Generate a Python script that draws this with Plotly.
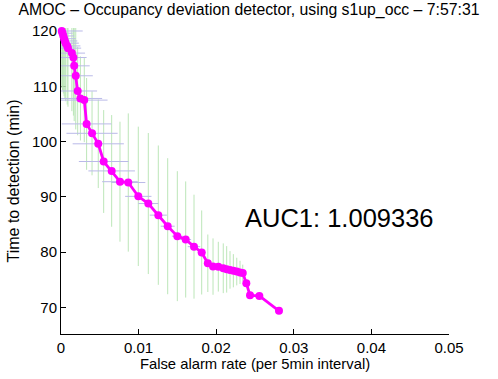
import plotly.graph_objects as go

# False alarm rate (per 5min interval)
far = [0.0001, 0.0002, 0.0003, 0.0004, 0.0005, 0.0006, 0.0008, 0.0009, 0.0014, 0.0016,
       0.0017, 0.0019, 0.00215, 0.0025, 0.0030, 0.0033, 0.0040, 0.0048, 0.0055, 0.00653,
       0.0076, 0.00867, 0.00996, 0.01125, 0.01254, 0.01375, 0.01499, 0.01607, 0.01714, 0.01813,
       0.01892, 0.01959, 0.02027, 0.02091, 0.02135, 0.02178, 0.02221, 0.02265, 0.02307, 0.02342,
       0.02388, 0.02436, 0.02556, 0.02809]
# Time to detection (min)
ttd = [120.0, 119.6, 119.1, 118.6, 118.2, 117.8, 117.3, 116.9, 116.0, 115.2,
       113.7, 111.9, 109.15, 107.8, 107.5, 103.2, 101.5, 99.6, 96.4, 94.7,
       92.75, 92.6, 90.1, 88.8, 86.7, 84.7, 82.9, 82.3, 81.0, 79.95,
       78.0, 77.4, 77.38, 77.1, 76.9, 76.8, 76.65, 76.5, 76.35, 76.25,
       74.4, 72.2, 72.1, 69.4]
# vertical spread (min)
err_ttd = [10.3, 10.3, 10.4, 10.4, 10.5, 10.5, 10.6, 10.6, 10.5, 10.5,
           10.0, 9.7, 8.0, 7.6, 7.6, 8.3, 7.6, 8.0, 9.3, 10.1,
           10.85, 12.5, 12.6, 12.75, 12.6, 12.3, 11.75, 10.5, 9.4, 7.6,
           5.2, 5.1, 4.5, 4.5, 4.2, 3.4, 3.0, 2.5, 2.1, 1.5,
           0, 0, 0, 0]
# horizontal spread (false alarm rate)
err_far = [0.0027, 0.0013, 0.0014, 0.0015, 0.0016, 0.0017, 0.0017, 0.0017, 0.0017, 0.0017,
           0.0020, 0.0022, 0.0025, 0.0028, 0.0030, 0.0032, 0.0033, 0.0033, 0.0032, 0.0030,
           0.0023, 0.0022, 0.0017, 0.0013, 0.0011, 0.0009, 0.0007, 0.0007, 0.0008, 0.0005,
           0.0004, 0.0003, 0.0003, 0.0003, 0.0002, 0.0002, 0.0002, 0.0002, 0.0001, 0.0001,
           0, 0, 0, 0]

x_ticks = [0, 0.01, 0.02, 0.03, 0.04, 0.05]
x_ticklabels = ["0", "0.01", "0.02", "0.03", "0.04", "0.05"]
y_ticks = [70, 80, 90, 100, 110, 120]

title_text = "AMOC \u2013 Occupancy deviation detector, using s1up_occ \u2013 7:57:31"
auc_text = "AUC1: 1.009336"

FONT = "Liberation Sans, Arial, sans-serif"

fig = go.Figure()
fig.add_trace(go.Scatter(
    x=far, y=ttd, mode="markers",
    marker=dict(size=1, color="rgba(0,0,0,0)"),
    error_y=dict(type="data", array=err_ttd, visible=True, width=0,
                 color="rgb(188,230,184)", thickness=1),
    hoverinfo="skip", showlegend=False))
fig.add_trace(go.Scatter(
    x=far, y=ttd, mode="markers",
    marker=dict(size=1, color="rgba(0,0,0,0)"),
    error_x=dict(type="data", array=err_far, visible=True, width=0,
                 color="rgb(186,186,232)", thickness=1),
    hoverinfo="skip", showlegend=False))
fig.add_trace(go.Scatter(
    x=far, y=ttd, mode="lines+markers",
    line=dict(color="#ff00ff", width=2.8),
    marker=dict(color="#ff00ff", size=8),
    cliponaxis=False, showlegend=False))

fig.add_annotation(x=0.02342, y=86.1, xref="x", yref="y", text=auc_text,
                   showarrow=False, xanchor="left", yanchor="middle",
                   font=dict(family=FONT, size=25.5, color="black"))

fig.update_layout(
    width=498, height=379,
    margin=dict(l=61, r=49, t=28, b=45),
    paper_bgcolor="white", plot_bgcolor="white",
    font=dict(family=FONT, size=15, color="black"),
    title=dict(text=title_text, x=0.5, xanchor="center", y=0.99, yanchor="top",
               font=dict(family=FONT, size=15.8, color="black")),
    showlegend=False,
)
fig.update_xaxes(range=[0, 0.05], tickvals=x_ticks, ticktext=x_ticklabels,
                 ticks="inside", ticklen=5, tickcolor="black", showgrid=False,
                 zeroline=False, showline=True, linecolor="black", linewidth=1,
                 layer="below traces",
                 title=dict(text="False alarm rate (per 5min interval)", standoff=2,
                            font=dict(family=FONT, size=14.8)),
                 tickfont=dict(family=FONT, size=15))
fig.update_yaxes(range=[65.21, 120.54], tickvals=y_ticks,
                 ticks="inside", ticklen=5, tickcolor="black", showgrid=False,
                 zeroline=False, showline=True, linecolor="black", linewidth=1,
                 layer="below traces",
                 title=dict(text="Time to detection (min)", standoff=8,
                            font=dict(family=FONT, size=16)),
                 tickfont=dict(family=FONT, size=15))

fig.write_html("out.html")
